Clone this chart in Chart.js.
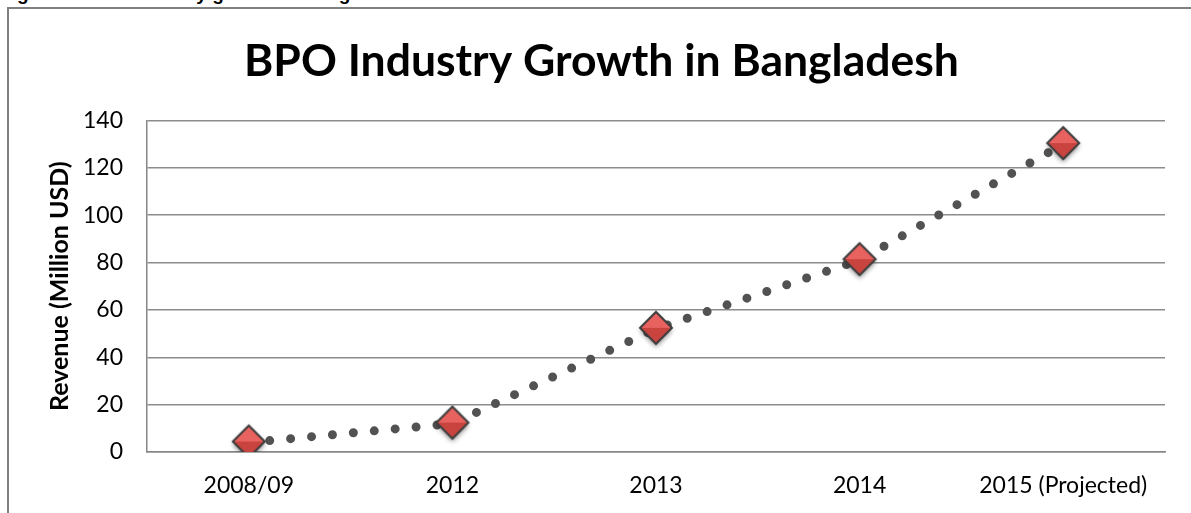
<!DOCTYPE html>
<html>
<head>
<meta charset="utf-8">
<script src="https://cdn.jsdelivr.net/npm/chart.js@4.4.1/dist/chart.umd.min.js"></script>
<style>
  html, body { margin: 0; padding: 0; background: #fff; overflow: hidden; }
  body { width: 1191px; height: 513px; position: relative; }
  .caption {
    position: absolute; left: 0; top: -16px;
    font: bold 19px "Liberation Sans", Arial, sans-serif;
    line-height: 19px; color: #000; white-space: nowrap;
  }
  .frame {
    position: absolute; left: 7px; top: 7px;
    width: 1300px; height: 600px;
    border: 2px solid #808080;
  }
  #chart { position: absolute; left: 0; top: 0; }
</style>
</head>
<body>
<div class="caption">Figure 2: BPO industry growth in Bangladesh</div>
<div class="frame"></div>
<canvas id="chart" width="1191" height="513"></canvas>
<script>
// revenue by year, million USD
const years = ["2008/09", "2012", "2013", "2014", "2015 (Projected)"];
const revenue = [4, 12, 52, 81, 130];
const yTicks = [0, 20, 40, 60, 80, 100, 120, 140];

// red faceted diamond marker with a soft drop shadow
function makeDiamond() {
  const c = document.createElement("canvas");
  c.width = 50;
  c.height = 50;
  const g = c.getContext("2d");
  const cx = 25, cy = 24, r = 16;
  const diamond = () => {
    g.beginPath();
    g.moveTo(cx, cy - r);
    g.lineTo(cx + r, cy);
    g.lineTo(cx, cy + r);
    g.lineTo(cx - r, cy);
    g.closePath();
  };
  g.save();
  g.shadowColor = "rgba(0,0,0,0.45)";
  g.shadowBlur = 5;
  g.shadowOffsetY = 3;
  diamond();
  g.fillStyle = "#d9504d";
  g.fill();
  g.restore();
  // upper facet lighter
  g.beginPath();
  g.moveTo(cx, cy - r);
  g.lineTo(cx + r, cy);
  g.lineTo(cx - r, cy);
  g.closePath();
  g.fillStyle = "#e8625f";
  g.fill();
  // lower facet darker
  g.beginPath();
  g.moveTo(cx - r, cy);
  g.lineTo(cx + r, cy);
  g.lineTo(cx, cy + r);
  g.closePath();
  g.fillStyle = "#c9443f";
  g.fill();
  diamond();
  g.lineWidth = 2;
  g.strokeStyle = "#3c3c3c";
  g.stroke();
  return c;
}

const ctx = document.getElementById("chart").getContext("2d");

new Chart(ctx, {
  type: "line",
  data: {
    labels: years,
    datasets: [{
      data: revenue,
      borderColor: "#525252",
      borderWidth: 9,
      borderDash: [0, 21],
      borderCapStyle: "round",
      tension: 0,
      fill: false,
      pointStyle: makeDiamond(),
      pointRadius: 17,
      pointHoverRadius: 17
    }]
  },
  options: {
    responsive: false,
    animation: false,
    layout: {
      // wider left padding keeps the title centred over the plot
      padding: { left: 36, right: 24, top: 0, bottom: 0 }
    },
    plugins: {
      legend: { display: false },
      tooltip: { enabled: false },
      title: {
        display: true,
        text: "BPO Industry Growth in Bangladesh",
        color: "#000",
        font: { family: "Lato", size: 44.5, weight: "bold", lineHeight: 1.2 },
        padding: { top: 35, bottom: 32 }
      }
    },
    scales: {
      x: {
        offset: true,
        grid: { display: false, drawTicks: false },
        border: { display: true, color: "#868686", width: 1.5 },
        ticks: {
          color: "#000",
          font: { family: "Lato", size: 23 },
          padding: 20,
          maxRotation: 0
        },
        afterFit(scale) { scale.height = 61; }
      },
      y: {
        min: 0,
        max: 140,
        afterBuildTicks(scale) {
          scale.ticks = yTicks.map(v => ({ value: v }));
        },
        grid: { color: "#8c8c8c", lineWidth: 1.5, drawTicks: false },
        border: { display: true, color: "#868686", width: 1.5 },
        ticks: {
          color: "#000",
          font: { family: "Lato", size: 23 },
          padding: 24
        },
        title: {
          display: true,
          text: "Revenue (Million USD)",
          color: "#000",
          font: { family: "Lato", size: 25, weight: "bold", lineHeight: 1.2 },
          padding: { top: 9, bottom: 0 }
        },
        afterFit(scale) { scale.width = 111; }
      }
    }
  }
});
</script>
</body>
</html>
